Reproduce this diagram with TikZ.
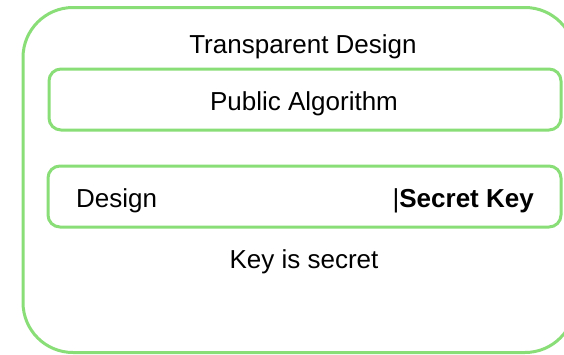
\documentclass[tikz,border=0pt]{standalone}
\usepackage{fontspec}
\setmainfont{Liberation Sans}
\definecolor{boxgreen}{RGB}{138,222,120}
\tikzset{
  panel/.style={draw=boxgreen, line width=3pt, rounded corners=#1, inner sep=0pt},
  label/.style={inner sep=0pt, font=\fontsize{26pt}{30pt}\selectfont, text=black},
}
\begin{document}
\begin{tikzpicture}[x=1pt,y=-1pt]
  \clip (0,0) rectangle (564,354);
  \fill[white] (0,0) rectangle (564,354);
  % outer container
  \node[panel=50pt, minimum width=552pt, minimum height=345pt] (outer) at (299,180) {};
  \node[label, anchor=base] (title) at (303,53) {Transparent Design};
  % public algorithm box
  \node[panel=12pt, minimum width=512pt, minimum height=61pt] (algo) at (305,99.5) {};
  \node[label, anchor=base] (algotext) at (304,110) {Public Algorithm};
  % design / secret key box
  \node[panel=12pt, minimum width=513pt, minimum height=61pt] (keybox) at (304.5,196.5) {};
  \node[label, anchor=base west] (design) at (76,207) {Design};
  \node[label, anchor=base east] (secret) at (534,207) {|\textbf{Secret Key}};
  \node[label, anchor=base] (note) at (304,268) {Key is secret};
\end{tikzpicture}
\end{document}
